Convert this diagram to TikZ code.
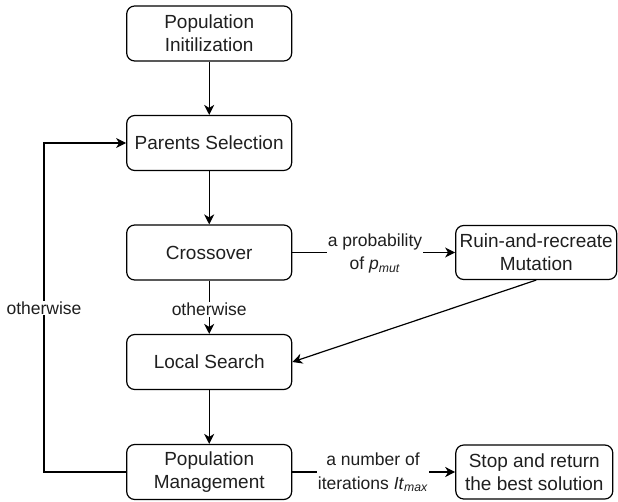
\documentclass[tikz,border=0pt]{standalone}
\usepackage{fontspec}
\setmainfont{Liberation Sans}
\usetikzlibrary{arrows.meta}
\begin{document}
\begin{tikzpicture}[x=1pt,y=-1pt,
  box/.style={draw, rounded corners=8pt, line width=1.2pt, minimum width=165pt, minimum height=55pt,
    align=center, font=\fontsize{19}{23}\selectfont, text=black!88, inner sep=0pt},
  lbl/.style={fill=white, align=center, font=\fontsize{17.5}{23.3}\selectfont, text=black!88, inner sep=1pt},
  arr/.style={line width=1.2pt, -{Stealth[length=10pt,width=10pt,inset=3pt]}},
]
\useasboundingbox (0,0) rectangle (618,502);
\node[box] (init)    at (209.2,33.5)  {Population\\Initilization};
\node[box] (parents) at (209.2,143)   {Parents Selection};
\node[box] (cross)   at (209.2,252.5) {Crossover};
\node[box] (local)   at (209.2,362)   {Local Search};
\node[box] (mgmt)    at (209.2,472)   {Population\\Management};
\node[box, minimum width=161pt, minimum height=54pt] (ruin) at (536.2,252.5) {Ruin-and-recreate\\Mutation};
\node[box, minimum width=157pt, minimum height=54pt] (stop) at (534.3,472) {Stop and return\\the best solution};

\draw[arr] (init.south) -- (parents.north);
\draw[arr] (parents.south) -- (cross.north);
\draw[arr] (cross.south) -- (local.north);
\node[lbl] (ow2) at (209.2,309.5) {otherwise};
\draw[arr] (local.south) -- (mgmt.north);

\draw[arr] (cross.east) -- (ruin.west);
\node[lbl] (prob) at (375,253.3) {a probability\\of \textit{p}\textsubscript{\textit{mut}}};

\draw[arr] (ruin.south) -- (local.east);

\draw[arr] (mgmt.east) -- (stop.west);
\node[lbl] (iter) at (373,472.5) {a number of\\iterations \textit{It}\textsubscript{\textit{max}}};

\coordinate (lb) at (44,472);
\draw[arr] (mgmt.west) -- (lb) |- (parents.west);
\node[lbl] (ow1) at (44,308) {otherwise};
\end{tikzpicture}
\end{document}
